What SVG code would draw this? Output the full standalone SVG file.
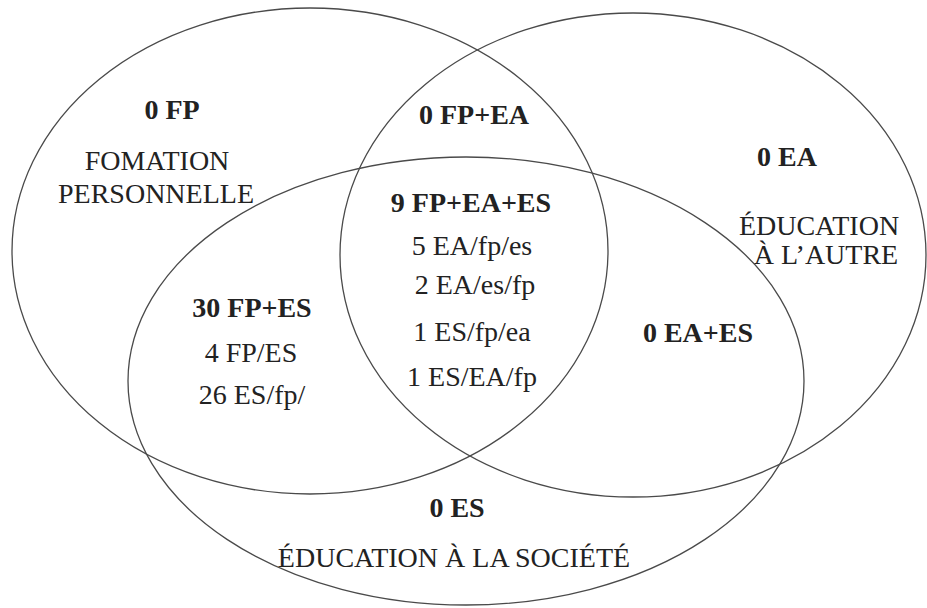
<svg xmlns="http://www.w3.org/2000/svg" width="927" height="608" viewBox="0 0 927 608">
<style>
.ring{fill:none;stroke:#4a4a4a;stroke-width:1.3}
.t{font-size:28px;fill:#222;text-anchor:middle}
.b{font-weight:bold}
</style>
<rect width="927" height="608" fill="#fff"/>
<g id="connectors"></g>
<g font-family="'Liberation Serif', 'Times New Roman', Times, 'Nimbus Roman', Tinos, 'DejaVu Serif', 'Noto Serif', serif">
<g id="set-fp">
<ellipse class="ring" cx="310" cy="251" rx="298" ry="243"/>
<text class="t b" x="172" y="119">0 FP</text>
<text class="t" x="157" y="170">FOMATION</text>
<text class="t" x="156" y="203">PERSONNELLE</text>
</g>
<g id="set-ea">
<ellipse class="ring" cx="633" cy="255" rx="293" ry="242"/>
<text class="t b" x="787" y="166">0 EA</text>
<text class="t" x="819" y="235">ÉDUCATION</text>
<text class="t" x="826" y="264">À L’AUTRE</text>
</g>
<g id="set-es">
<ellipse class="ring" cx="466" cy="381" rx="338" ry="224"/>
<text class="t b" x="457" y="517">0 ES</text>
<text class="t" x="454" y="567">ÉDUCATION À LA SOCIÉTÉ</text>
</g>
<g id="fp-ea">
<text class="t b" x="474" y="124">0 FP+EA</text>
</g>
<g id="fp-ea-es">
<text class="t b" x="471" y="212">9 FP+EA+ES</text>
<text class="t" x="472" y="255">5 EA/fp/es</text>
<text class="t" x="475" y="294">2 EA/es/fp</text>
<text class="t" x="472" y="341">1 ES/fp/ea</text>
<text class="t" x="472" y="386">1 ES/EA/fp</text>
</g>
<g id="fp-es">
<text class="t b" x="252" y="317">30 FP+ES</text>
<text class="t" x="251" y="362">4 FP/ES</text>
<text class="t" x="252" y="404">26 ES/fp/</text>
</g>
<g id="ea-es">
<text class="t b" x="698" y="342">0 EA+ES</text>
</g>
</g>
</svg>
